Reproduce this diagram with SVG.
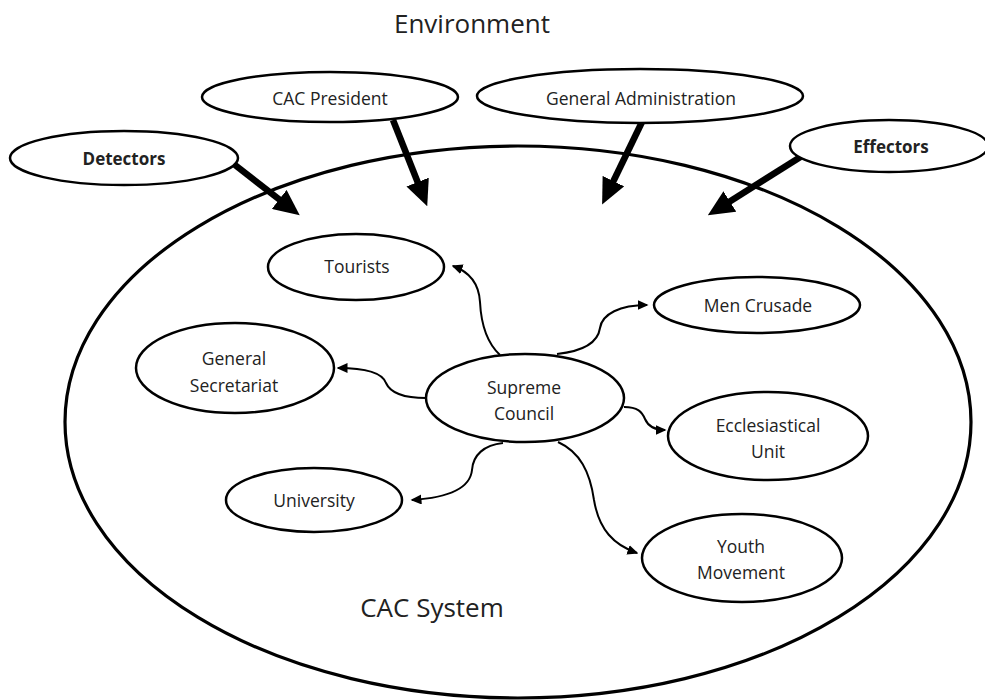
<svg xmlns="http://www.w3.org/2000/svg" width="985" height="700" viewBox="0 0 985 700">
<style>
.node{fill:#fff;stroke:#000;stroke-width:2.5}
.sys{fill:none;stroke:#000;stroke-width:3.2}
.t{font-family:"Open Sans","Liberation Sans",sans-serif;font-size:17.5px;fill:#222;text-anchor:middle}
.b{font-weight:bold;font-size:17px}
.big{font-size:26px}
.thick{fill:none;stroke:#000;stroke-width:6.5}
.thin{fill:none;stroke:#000;stroke-width:2}
</style>
<defs>
<marker id="bighead" markerUnits="userSpaceOnUse" markerWidth="26" markerHeight="24" viewBox="0 0 26 24" refX="1" refY="12" orient="auto">
<path d="M0,0 L26,12 L0,24 z" fill="#000"/>
</marker>
<marker id="smallhead" markerUnits="userSpaceOnUse" markerWidth="11" markerHeight="10" viewBox="0 0 11 10" refX="9.5" refY="5" orient="auto">
<path d="M0,0 L11,5 L0,10 z" fill="#000"/>
</marker>
</defs>
<rect width="985" height="700" fill="#fff"/>
<g id="system">
<ellipse class="sys" cx="518" cy="422" rx="453" ry="276"/>
<text class="t big" x="472" y="33">Environment</text>
<text class="t big" x="432" y="617">CAC System</text>
</g>
<g id="connectors">
<path class="thick" d="M235,165 L280,200" marker-end="url(#bighead)"/>
<path class="thick" d="M393,120 L418,183" marker-end="url(#bighead)"/>
<path class="thick" d="M642,122 L613,182" marker-end="url(#bighead)"/>
<path class="thick" d="M802,156 L729,202" marker-end="url(#bighead)"/>
<path class="thin" d="M500,355 C486,342 481,322 480,302 C479,285 470,272 453,266" marker-end="url(#smallhead)"/>
<path class="thin" d="M426,398 C402,398 390,392 386,383 C382,372 362,368 338,368" marker-end="url(#smallhead)"/>
<path class="thin" d="M503,443 C484,445 473,455 472,470 C470,490 444,498 412,500" marker-end="url(#smallhead)"/>
<path class="thin" d="M557,354 C585,351 598,342 600,328 C602,314 620,305 647,305" marker-end="url(#smallhead)"/>
<path class="thin" d="M624,407 C638,407 642,412 645,419 C648,426 655,430 665,430" marker-end="url(#smallhead)"/>
<path class="thin" d="M558,442 C580,452 590,472 594,500 C599,530 614,545 637,553" marker-end="url(#smallhead)"/>
</g>
<g id="detectors">
<ellipse class="node" cx="124" cy="158" rx="114" ry="27"/>
<text class="t b" x="124" y="165">Detectors</text>
</g>
<g id="cac-president">
<ellipse class="node" cx="330" cy="97" rx="128" ry="25"/>
<text class="t" x="330" y="105">CAC President</text>
</g>
<g id="general-administration">
<ellipse class="node" cx="640" cy="96" rx="163" ry="27"/>
<text class="t" x="641" y="105">General Administration</text>
</g>
<g id="effectors">
<ellipse class="node" cx="889" cy="146" rx="99" ry="26"/>
<text class="t b" x="891" y="153">Effectors</text>
</g>
<g id="tourists">
<ellipse class="node" cx="356" cy="267" rx="88" ry="33"/>
<text class="t" x="357" y="273">Tourists</text>
</g>
<g id="general-secretariat">
<ellipse class="node" cx="235" cy="368" rx="99" ry="45"/>
<text class="t" x="234" y="365">General</text>
<text class="t" x="234" y="392">Secretariat</text>
</g>
<g id="university">
<ellipse class="node" cx="314" cy="500" rx="88" ry="32"/>
<text class="t" x="314" y="507">University</text>
</g>
<g id="supreme-council">
<ellipse class="node" cx="525" cy="398" rx="99" ry="44"/>
<text class="t" x="524" y="394">Supreme</text>
<text class="t" x="524" y="420">Council</text>
</g>
<g id="men-crusade">
<ellipse class="node" cx="757" cy="305" rx="103" ry="28"/>
<text class="t" x="758" y="312">Men Crusade</text>
</g>
<g id="ecclesiastical-unit">
<ellipse class="node" cx="768" cy="436" rx="100" ry="44"/>
<text class="t" x="768" y="432">Ecclesiastical</text>
<text class="t" x="768" y="458">Unit</text>
</g>
<g id="youth-movement">
<ellipse class="node" cx="742" cy="558" rx="100" ry="44"/>
<text class="t" x="741" y="553">Youth</text>
<text class="t" x="741" y="579">Movement</text>
</g>
</svg>
